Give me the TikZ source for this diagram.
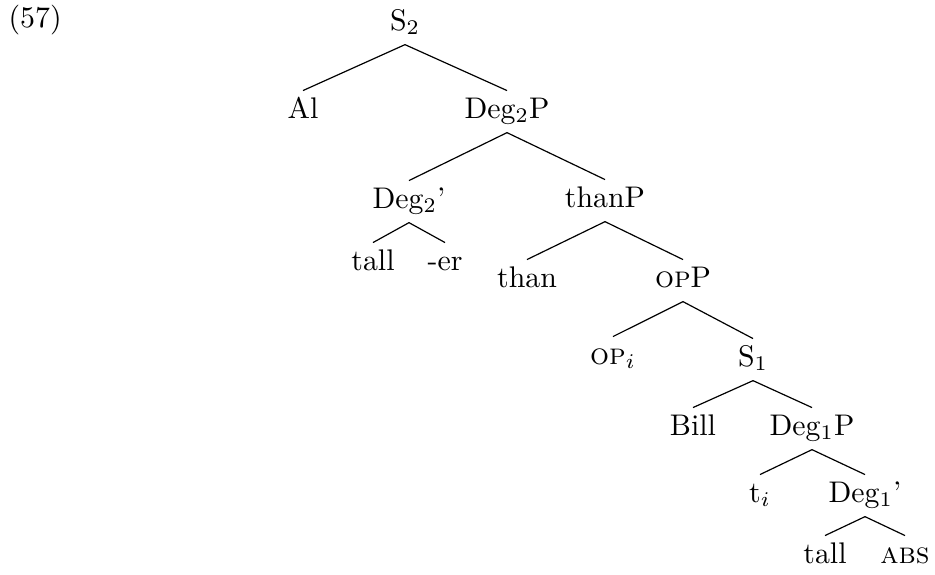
\documentclass[tikz,border=0pt]{standalone}
\begin{document}
\begin{tikzpicture}[x=0.335pt,y=-0.335pt,
  lbl/.style={anchor=base,inner xsep=0pt,inner ysep=2.5pt,text height=6.5pt,text depth=2.2pt},
  edge/.style={line width=0.4pt}]
\useasboundingbox (0,0) rectangle (935,574);
\node[anchor=base west,inner sep=0pt] (ex) at (8,27) {(57)};
\node[lbl] (s2) at (405,30) {S$_2$};
\node[lbl] (al) at (303,118) {Al};
\node[lbl] (deg2p) at (507,118) {Deg$_2$P};
\node[lbl] (deg2b) at (409,208) {Deg$_2$'};
\node[lbl] (thanp) at (605,207) {thanP};
\node[lbl] (tall2) at (373,270) {tall};
\node[lbl] (er) at (445,270) {-er};
\node[lbl] (than) at (527,287) {than};
\node[lbl] (opp) at (683,287) {\textsc{op}P};
\node[lbl] (opi) at (613,364) {\textsc{op}$_i$};
\node[lbl] (s1) at (753,366) {S$_1$};
\node[lbl] (bill) at (693,435) {Bill};
\node[lbl] (deg1p) at (812,435) {Deg$_1$P};
\node[lbl] (ti) at (760,502) {t$_i$};
\node[lbl] (deg1b) at (865,502) {Deg$_1$'};
\node[lbl] (tall1) at (825,563) {tall};
\node[lbl] (abs) at (905,563) {\textsc{abs}};
\draw[edge] (s2.south) -- (al.north);
\draw[edge] (s2.south) -- (deg2p.north);
\draw[edge] (deg2p.south) -- (deg2b.north);
\draw[edge] (deg2p.south) -- (thanp.north);
\draw[edge] (deg2b.south) -- (tall2.north);
\draw[edge] (deg2b.south) -- (er.north);
\draw[edge] (thanp.south) -- (than.north);
\draw[edge] (thanp.south) -- (opp.north);
\draw[edge] (opp.south) -- (opi.north);
\draw[edge] (opp.south) -- (s1.north);
\draw[edge] (s1.south) -- (bill.north);
\draw[edge] (s1.south) -- (deg1p.north);
\draw[edge] (deg1p.south) -- (ti.north);
\draw[edge] (deg1p.south) -- (deg1b.north);
\draw[edge] (deg1b.south) -- (tall1.north);
\draw[edge] (deg1b.south) -- (abs.north);
\end{tikzpicture}
\end{document}
